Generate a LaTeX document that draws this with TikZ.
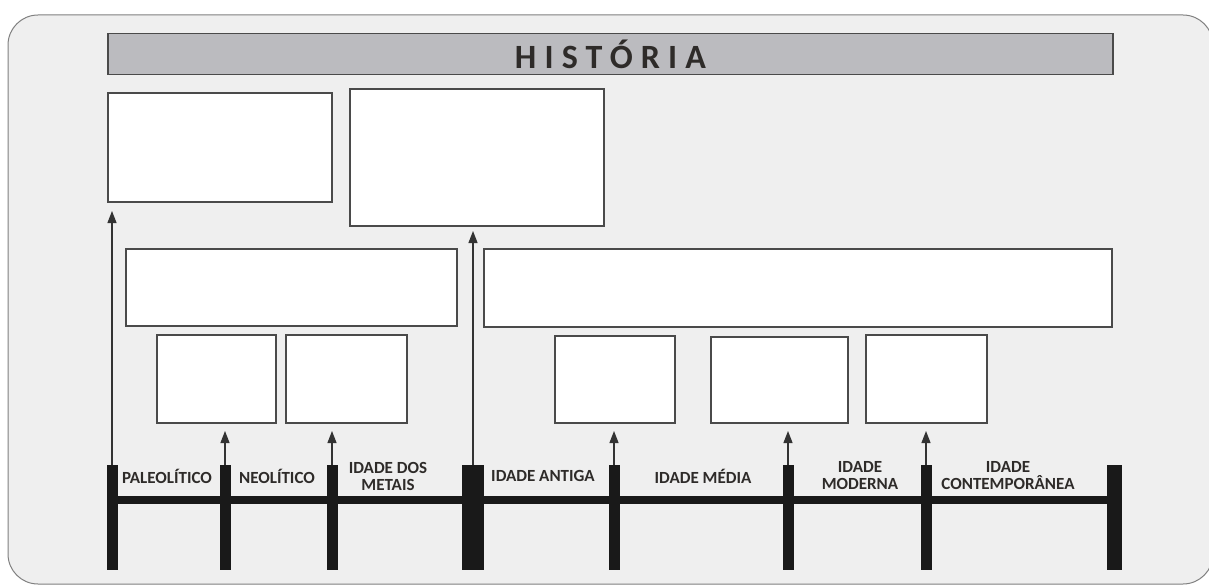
\documentclass[tikz,border=0pt]{standalone}
\usepackage{fontspec}
\setmainfont{Carlito}
\newfontfamily\titlefont[LetterSpace=24]{Carlito}
\usetikzlibrary{arrows.meta}
\definecolor{panelgray}{HTML}{EFEFEF}
\definecolor{barfill}{HTML}{BBBBBF}
\definecolor{edgegray}{HTML}{4A4A4A}
\definecolor{inkdark}{HTML}{2E2B29}

\begin{document}
\begin{tikzpicture}[
  x=1pt,y=-1pt,
  box/.style={draw=edgegray,line width=1.8pt,fill=white,inner sep=0pt,outer sep=0pt},
  titlebar/.style={draw=edgegray,line width=1.8pt,fill=barfill,inner sep=0pt,
                   minimum width=1005pt,minimum height=41pt,text=inkdark,
                   font=\titlefont\fontsize{34}{34}\selectfont\bfseries},
  tick/.style={fill=black!90,anchor=north,minimum height=105pt,inner sep=0pt,outer sep=0pt},
  era/.style={align=center,text=inkdark,inner sep=0pt,
              font=\fontsize{17}{17}\selectfont\bfseries},
  axis/.style={line width=8pt,black!90},
  arrow/.style={-{Triangle[length=12pt,width=9pt]},line width=1.2pt,black!80}
]
\useasboundingbox (0,0) rectangle (1209,586);
\fill[white] (0,0) rectangle (1209,586);
\clip (0,0) rectangle (1209,586);
\filldraw[fill=panelgray,draw=gray,line width=1pt,rounded corners=30pt]
  (8,15) rectangle (1213,584);

\node[titlebar] (hist) at (610.5,54) {HISTÓRIA};

\node[box,minimum width=224pt,minimum height=109pt] (pre) at (220,147.5) {};
\node[box,minimum width=254pt,minimum height=137pt] (hist2) at (477,157.5) {};
\node[box,minimum width=331pt,minimum height=77pt] (prehist) at (291.5,287.5) {};
\node[box,minimum width=628pt,minimum height=78pt] (history) at (798,288) {};

\node[box,minimum width=119pt,minimum height=88pt] (paleo) at (216.5,379) {};
\node[box,minimum width=121pt,minimum height=88pt] (neo) at (346.5,379) {};
\node[box,minimum width=120pt,minimum height=87pt] (antiga) at (615,379.5) {};
\node[box,minimum width=137pt,minimum height=86pt] (media) at (779.5,380) {};
\node[box,minimum width=121pt,minimum height=88pt] (moderna) at (926.5,379) {};

\node[tick,minimum width=11pt] (t1) at (112,465) {};
\node[tick,minimum width=11pt] (t2) at (225,465) {};
\node[tick,minimum width=11pt] (t3) at (332,465) {};
\node[tick,minimum width=22pt] (t4) at (473,465) {};
\node[tick,minimum width=11pt] (t5) at (614,465) {};
\node[tick,minimum width=11pt] (t6) at (788,465) {};
\node[tick,minimum width=11pt] (t7) at (926,465) {};
\node[tick,minimum width=15pt] (t8) at (1114,465) {};
\draw[axis] ([yshift=-35pt]t1.north) -- ([yshift=-35pt]t8.north);

\node[era] (e1) at (167,476) {PALEOLÍTICO};
\node[era] (e2) at (277,476) {NEOLÍTICO};
\node[era] (e3) at (388,476) {IDADE DOS\\METAIS};
\node[era] (e4) at (543,476) {IDADE ANTIGA};
\node[era] (e5) at (703,476) {IDADE MÉDIA};
\node[era] (e6) at (860,476) {IDADE\\MODERNA};
\node[era] (e7) at (1008,476) {IDADE\\CONTEMPORÂNEA};

\draw[arrow,shorten >=9pt] (t1.north) -- (t1.north |- pre.south);
\draw[arrow,shorten >=5pt] (t4.north) -- (t4.north |- hist2.south);
\draw[arrow,shorten >=8pt] (t2.north) -- (t2.north |- paleo.south);
\draw[arrow,shorten >=8pt] (t3.north) -- (t3.north |- neo.south);
\draw[arrow,shorten >=8pt] (t5.north) -- (t5.north |- antiga.south);
\draw[arrow,shorten >=8pt] (t6.north) -- (t6.north |- media.south);
\draw[arrow,shorten >=8pt] (t7.north) -- (t7.north |- moderna.south);
\end{tikzpicture}
\end{document}
